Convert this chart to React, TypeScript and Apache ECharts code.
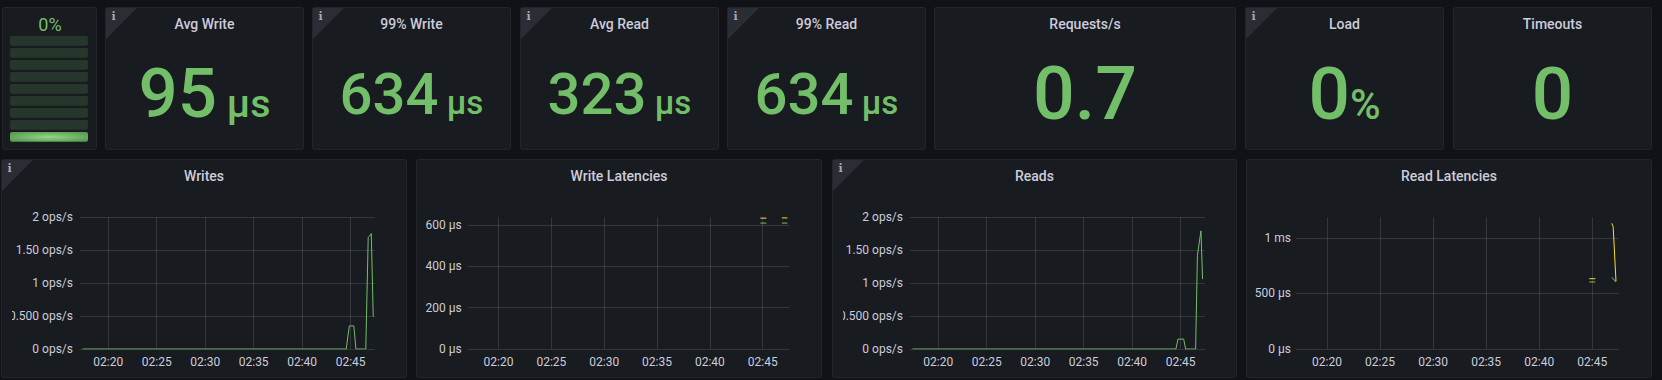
import React, { useEffect, useRef } from "react";
import * as echarts from "echarts";

// ---------- data ----------
const timeTicks = ["02:20", "02:25", "02:30", "02:35", "02:40", "02:45"];
const rangeStart = "02:17:05";
const rangeEnd = "02:47:31";

const opsTicks = [0, 0.5, 1, 1.5, 2];
const opsTickLabels = ["0 ops/s", "0.500 ops/s", "1 ops/s", "1.50 ops/s", "2 ops/s"];
const writeLatTicks = [0, 200, 400, 600];
const writeLatTickLabels = ["0 μs", "200 μs", "400 μs", "600 μs"];
const readLatTicks = [0, 500, 1000];
const readLatTickLabels = ["0 μs", "500 μs", "1 ms"];

const writesTimes = ["02:17:20", "02:44:33", "02:44:52", "02:45:20", "02:45:33", "02:46:34", "02:46:49", "02:46:57", "02:47:08", "02:47:20"];
const writesOps = [0, 0, 0.35, 0.35, 0, 0, 1.69, 1.71, 1.75, 0.49];

const readsTimes = ["02:17:20", "02:44:31", "02:44:44", "02:45:19", "02:45:31", "02:46:33", "02:46:44", "02:47:06", "02:47:16"];
const readsOps = [0, 0, 0.15, 0.15, 0, 0, 1.42, 1.79, 1.06];

const writeLatTimes = ["02:44:47", "02:45:21", "02:46:00", "02:46:49", "02:47:20"];
const writeLatP99 = [633, 633, null, 634, 634];
const writeLatP95 = [609, 609, null, 609, 609];

const readLatP99Times = ["02:44:43", "02:45:17", "02:46:00", "02:46:50", "02:46:58", "02:47:14"];
const readLatP99 = [633, 633, null, 1132, 1102, 610];
const readLatP95Times = ["02:44:43", "02:45:17", "02:46:00", "02:46:50", "02:47:14"];
const readLatP95 = [604, 604, null, 646, 603];

const statTitles = ["Avg Write", "99% Write", "Avg Read", "99% Read", "Requests/s", "Load", "Timeouts"];
const statValues = ["95", "634", "323", "634", "0.7", "0", "0"];
const statUnits = [" μs", " μs", " μs", " μs", "", "%", ""];
const statInfo = [true, true, true, true, false, true, false];

const gaugeText = "0%";
const gaugeCells = 9;
const gaugeLitCells = 1;

const graphTitles = ["Writes", "Write Latencies", "Reads", "Read Latencies"];
const graphInfo = [true, false, true, false];

// ---------- layout / style ----------
const W = 1662;
const H = 380;
const canvasBg = "#111217";
const panelBg = "#181b1f";
const panelBorder = "#23252b";
const cornerBg = "#2a2d33";
const green = "#73bf69";
const yellow = "#fade2a";
const textColor = "#ccccdc";
const gridColor = "rgba(240,250,255,0.13)";
const FONT = "Roboto";

const statPanelX = [[105, 304], [312, 511], [520, 719], [727, 926], [934, 1236], [1245, 1444], [1453, 1652]];
const statFont = [69, 58, 58, 58, 73.5, 73, 73];
const statUnitRatio = 0.57;
const statBaseline = [117.5, 113.5, 113.5, 113.5, 119, 119, 119];
const topY = [7, 150];
const gaugeX = [2, 97];
const graphPanelX = [[1, 407], [416, 822], [832, 1237], [1246, 1652]];
const botY = [159, 378];
const gridBoxes = [
  { l: 80, r: 375, t: 217, b: 349, m: 7 },
  { l: 467.7, r: 789.3, t: 217.3, b: 349, m: 6 },
  { l: 910, r: 1205, t: 217, b: 349, m: 7 },
  { l: 1296, r: 1619, t: 217.3, b: 349, m: 5 },
];

// seconds since midnight
const T = (s: string) => {
  const p = s.split(":").map(Number);
  return p[0] * 3600 + p[1] * 60 + (p[2] || 0);
};
const mk = (times: string[], vals: (number | null)[]) => times.map((t, i) => [T(t), vals[i]]);

let measureCtx: CanvasRenderingContext2D | null = null;
function measure(text: string, size: number, weight: number) {
  if (!measureCtx) measureCtx = document.createElement("canvas").getContext("2d");
  if (!measureCtx) return text.length * size * 0.56;
  measureCtx.font = `${weight} ${size}px ${FONT}`;
  return measureCtx.measureText(text).width;
}

const CENTRAL = 0.342;

function panel(x0: number, y0: number, x1: number, y1: number) {
  return {
    type: "rect",
    z: 0,
    shape: { x: x0 + 0.5, y: y0 + 0.5, width: x1 - x0 - 1, height: y1 - y0 - 1, r: 2 },
    style: { fill: panelBg, stroke: panelBorder, lineWidth: 1 },
    silent: true,
  };
}
function corner(x0: number, y0: number) {
  return [
    {
      type: "polygon",
      z: 1,
      shape: { points: [[x0 + 1, y0 + 1], [x0 + 32, y0 + 1], [x0 + 1, y0 + 32]] },
      style: { fill: cornerBg },
      silent: true,
    },
    {
      type: "text",
      z: 2,
      style: {
        text: "i", x: x0 + 8.5, y: y0 + 9.5, fill: "#a9aab3",
        fontSize: 11, fontWeight: 700, fontFamily: "DejaVu Serif",
        align: "center", verticalAlign: "middle",
      },
      silent: true,
    },
  ];
}
function title(text: string, cx: number, cy: number) {
  return {
    type: "text",
    z: 10,
    style: {
      text, x: cx, y: cy, fill: textColor, fontSize: 14, fontWeight: 500, fontFamily: FONT,
      align: "center", verticalAlign: "middle",
    },
    silent: true,
  };
}

function buildGraphics() {
  const g: any[] = [];
  g.push(panel(gaugeX[0], topY[0], gaugeX[1], topY[1]));
  g.push({
    type: "text", z: 10,
    style: {
      text: gaugeText, x: (gaugeX[0] + gaugeX[1]) / 2 + 0.5, y: 31 - CENTRAL * 18, fill: green,
      fontSize: 18, fontWeight: 400, fontFamily: FONT, align: "center", verticalAlign: "middle",
    },
  });
  for (let i = 0; i < gaugeCells; i++) {
    const lit = i < gaugeLitCells;
    g.push({
      type: "rect", z: 2,
      shape: { x: 10, y: 132 - 12 * i, width: 78, height: 9.7, r: 2 },
      style: {
        fill: lit
          ? new echarts.graphic.RadialGradient(0.5, 0.5, 0.6, [
              { offset: 0, color: "#8fd885" },
              { offset: 1, color: "#5a9c52" },
            ])
          : "rgba(115,191,105,0.17)",
      },
      silent: true,
    });
  }
  statPanelX.forEach(([x0, x1], i) => {
    g.push(panel(x0, topY[0], x1, topY[1]));
    if (statInfo[i]) g.push(...corner(x0, topY[0]));
    const cx = (x0 + x1) / 2;
    g.push(title(statTitles[i], cx, 24));
    const vf = statFont[i];
    const uf = vf * statUnitRatio;
    const vw = measure(statValues[i], vf, 500);
    const uw = statUnits[i] ? measure(statUnits[i], uf, 500) : 0;
    const start = cx - (vw + uw) / 2;
    const by = statBaseline[i];
    g.push({
      type: "text", z: 10,
      style: {
        text: statValues[i], x: start, y: by - CENTRAL * vf, fill: green,
        fontSize: vf, fontWeight: 500, fontFamily: FONT, align: "left", verticalAlign: "middle",
      },
    });
    if (statUnits[i]) {
      g.push({
        type: "text", z: 10,
        style: {
          text: statUnits[i], x: start + vw, y: by - CENTRAL * uf, fill: green,
          fontSize: uf, fontWeight: 500, fontFamily: FONT, align: "left", verticalAlign: "middle",
        },
      });
    }
  });
  graphPanelX.forEach(([x0, x1], i) => {
    g.push(panel(x0, botY[0], x1, botY[1]));
    if (graphInfo[i]) g.push(...corner(x0, botY[0]));
    g.push(title(graphTitles[i], (x0 + x1) / 2, 176));
  });
  [graphPanelX[0][0], graphPanelX[2][0]].forEach((x0) => {
    g.push({
      type: "rect", z: 20,
      shape: { x: x0 + 1, y: 306, width: 10, height: 20 },
      style: { fill: panelBg },
      silent: true,
    });
  });
  return g;
}

const timeTickValues = timeTicks.map((t) => T(t + ":00"));

function xAxis(i: number) {
  return {
    type: "value",
    gridIndex: i,
    min: T(rangeStart),
    max: T(rangeEnd),
    z: 3,
    axisLine: { show: false },
    axisTick: { show: false, customValues: timeTickValues },
    axisLabel: {
      customValues: timeTickValues,
      formatter: (v: number) => timeTicks[timeTickValues.indexOf(v)] ?? "",
      color: textColor, fontSize: 12, fontFamily: FONT, margin: 7,
    },
    splitLine: { show: true, lineStyle: { color: gridColor, width: 1 } },
  };
}
function yAxis(i: number, max: number, ticks: number[], labels: string[], margin: number) {
  return {
    type: "value",
    gridIndex: i,
    min: 0,
    max,
    z: 3,
    axisLine: { show: false },
    axisTick: { show: false, customValues: ticks },
    axisLabel: {
      customValues: ticks,
      formatter: (v: number) => labels[ticks.indexOf(v)] ?? "",
      color: textColor, fontSize: 12, fontFamily: FONT, margin,
    },
    splitLine: { show: true, lineStyle: { color: gridColor, width: 1 } },
  };
}
function line(xi: number, data: any[], color: string, z = 4) {
  return {
    type: "line",
    xAxisIndex: xi,
    yAxisIndex: xi,
    data,
    showSymbol: false,
    connectNulls: false,
    z,
    lineStyle: { width: 1, color },
    itemStyle: { color },
    emphasis: { disabled: true },
  };
}

export default function App() {
  const ref = useRef<HTMLDivElement>(null);
  useEffect(() => {
    if (!ref.current) return;
    const chart = echarts.init(ref.current, null, { renderer: "svg" });
    chart.setOption({
      animation: false,
      backgroundColor: canvasBg,
      textStyle: { fontFamily: FONT },
      grid: gridBoxes.map((b) => ({ left: b.l, right: W - b.r, top: b.t, bottom: H - b.b, containLabel: false })),
      xAxis: [0, 1, 2, 3].map(xAxis),
      yAxis: [
        yAxis(0, 2, opsTicks, opsTickLabels, gridBoxes[0].m),
        yAxis(1, 637, writeLatTicks, writeLatTickLabels, gridBoxes[1].m),
        yAxis(2, 2, opsTicks, opsTickLabels, gridBoxes[2].m),
        yAxis(3, 1186, readLatTicks, readLatTickLabels, gridBoxes[3].m),
      ],
      series: [
        line(0, mk(writesTimes, writesOps), green),
        line(1, mk(writeLatTimes, writeLatP99), yellow),
        line(1, mk(writeLatTimes, writeLatP95), green, 5),
        line(2, mk(readsTimes, readsOps), green),
        line(3, mk(readLatP99Times, readLatP99), yellow),
        line(3, mk(readLatP95Times, readLatP95), green, 5),
      ],
      graphic: { elements: buildGraphics() },
    });
    return () => chart.dispose();
  }, []);
  return (
    <div
      ref={ref}
      style={{ position: "absolute", left: 0, top: 0, width: W, height: H }}
    />
  );
}
